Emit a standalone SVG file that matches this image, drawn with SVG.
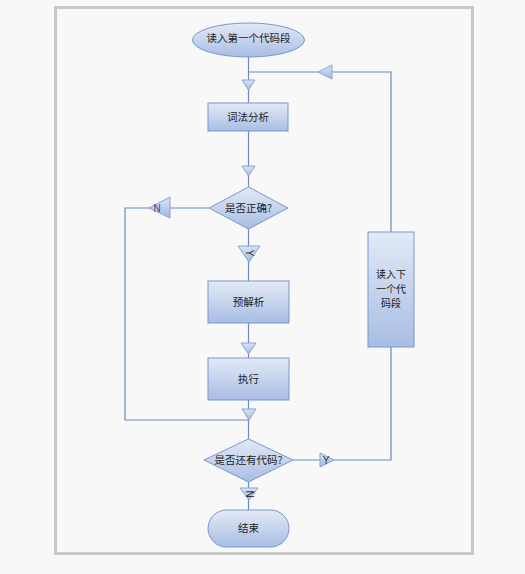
<svg xmlns="http://www.w3.org/2000/svg" width="525" height="574" viewBox="0 0 525 574">
<defs>
<linearGradient id="g" x1="0" y1="0" x2="0" y2="1">
<stop offset="0" stop-color="#e3eaf7"/>
<stop offset="1" stop-color="#a8bde3"/>
</linearGradient>
<linearGradient id="ga" x1="0" y1="0" x2="0" y2="1">
<stop offset="0" stop-color="#dbe4f5"/>
<stop offset="1" stop-color="#a3b9e0"/>
</linearGradient>
<style>
.n{fill:url(#g);stroke:#7b97c9;stroke-width:1}
.a{fill:url(#ga);stroke:#89a3d0;stroke-width:1}
.l{fill:none;stroke:#6e8bbf;stroke-width:1.2}
.t{font-family:"Noto Sans CJK SC","Liberation Sans",sans-serif;font-size:10.5px;fill:#222;text-anchor:middle}
.s{font-size:10px}
.lab{font-family:"Liberation Sans",sans-serif;font-size:10px;fill:#333;text-anchor:middle}
</style>
</defs>
<rect x="0" y="0" width="525" height="574" fill="#f8f8f8"/>
<rect x="55.5" y="7.5" width="417" height="546" fill="#f8f8f8" stroke="#c8c8c8" stroke-width="3"/>
<g id="connectors">
<path class="l" d="M248.5 57V103"/>
<path class="l" d="M391 232V72H248.5"/>
<path class="l" d="M248.5 131V187"/>
<path class="l" d="M209 208H125V420H248.5"/>
<path class="l" d="M248.5 229V281"/>
<path class="l" d="M248.5 323V358"/>
<path class="l" d="M248.5 400V439"/>
<path class="l" d="M293 460H391V347"/>
<path class="l" d="M248.5 482V510"/>
<polygon class="a" points="242,80 255,80 248.5,90"/>
<polygon class="a" points="332,65 332,79 318,72"/>
<polygon class="a" points="242,166 255,166 248.5,176"/>
<polygon class="a" points="170,197 170,218 149,208"/>
<text class="lab" x="157" y="212" style="fill:#5a3f7a">N</text>
<polygon class="a" points="238,246 260,246 249,262"/>
<text class="lab" transform="translate(249 253) rotate(90)" x="0" y="3.5">Y</text>
<polygon class="a" points="241,343 256,343 248.5,354"/>
<polygon class="a" points="242,409 256,409 249,420"/>
<polygon class="a" points="320,453 320,467 334,460"/>
<text class="lab" x="326" y="464">Y</text>
<polygon class="a" points="240,488 258,488 249,500"/>
<text class="lab" transform="translate(249 494) rotate(90)" x="0" y="3.5">N</text>
</g>
<g id="start">
<ellipse class="n" cx="248.5" cy="40" rx="56" ry="17"/>
<text class="t" x="248.5" y="41.5">读入第一个代码段</text>
</g>
<g id="lex">
<rect class="n" x="208" y="103" width="80" height="28"/>
<text class="t" x="248" y="121">词法分析</text>
</g>
<g id="check1">
<polygon class="n" points="248.5,187 288,208 248.5,229 209,208"/>
<text class="t" x="248.5" y="212">是否正确?</text>
</g>
<g id="preparse">
<rect class="n" x="208" y="281" width="81" height="42"/>
<text class="t" x="248.5" y="306">预解析</text>
</g>
<g id="exec">
<rect class="n" x="208" y="358" width="81" height="42"/>
<text class="t" x="248.5" y="383">执行</text>
</g>
<g id="check2">
<polygon class="n" points="248.5,439 293,460 248.5,482 204,460"/>
<text class="t" x="248.5" y="464">是否还有代码?</text>
</g>
<g id="end">
<rect class="n" x="208" y="510" width="81" height="37" rx="18.5"/>
<text class="t" x="248.5" y="532">结束</text>
</g>
<g id="readnext">
<rect class="n" x="368" y="232" width="46" height="115"/>
<text class="t s" x="391" y="278">读入下</text>
<text class="t s" x="391" y="292.5">一个代</text>
<text class="t s" x="391" y="307">码段</text>
</g>
</svg>
